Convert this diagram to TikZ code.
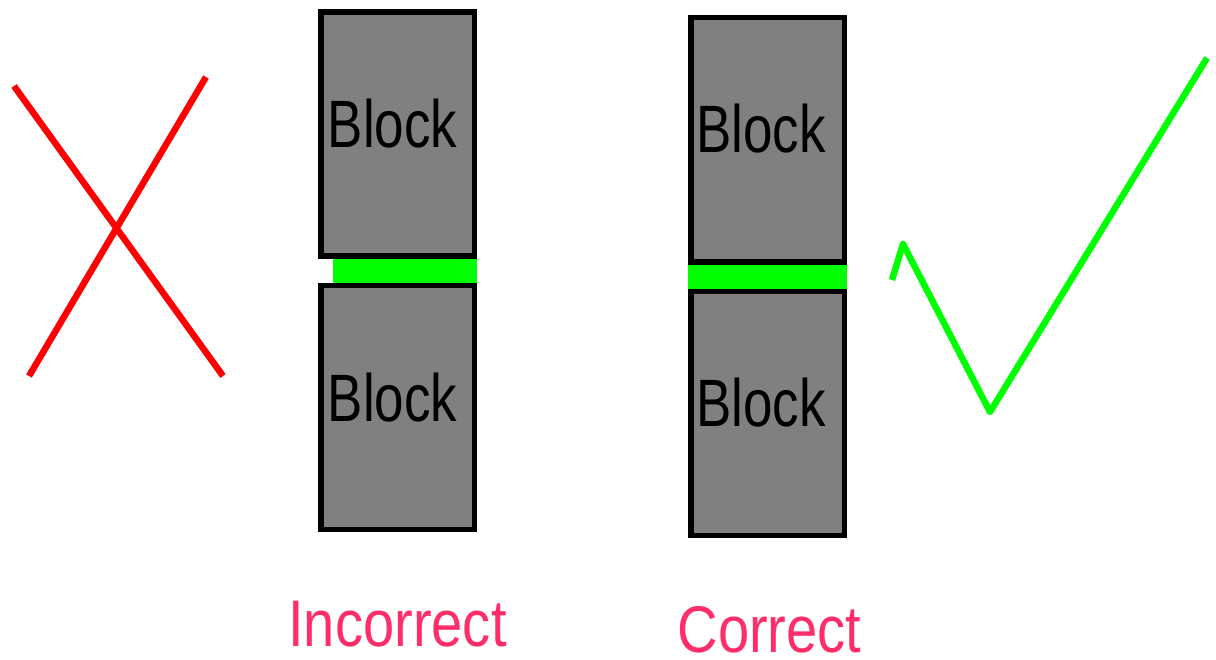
\documentclass[tikz,border=0pt]{standalone}
\usepackage{fontspec}
\setmainfont{Liberation Sans}
\definecolor{blockgray}{RGB}{128,128,128}
\definecolor{brightgreen}{RGB}{0,255,0}
\definecolor{brightred}{RGB}{255,0,0}
\definecolor{labelpink}{RGB}{255,45,105}
\tikzset{
  blockbox/.style={draw=black, fill=blockgray, line width=5.5pt, inner sep=0pt,
    minimum width=153.5pt, minimum height=244pt},
  gluebar/.style={fill=brightgreen, draw=none, inner sep=0pt, minimum height=24pt},
  blocktext/.style={inner sep=0pt, text=black, font=\fontsize{67}{70}\selectfont},
  labeltext/.style={inner sep=0pt, text=labelpink, font=\fontsize{66}{70}\selectfont},
  markline/.style={line width=6.5pt, line cap=butt, line join=miter}
}
\begin{document}
\begin{tikzpicture}[x=1pt,y=-1pt]
\useasboundingbox (0,0) rectangle (1216,660);
% incorrect stack
\node[blockbox] (lt) at (397.5,134) {};
\node[blockbox, minimum height=243.5pt] (lb) at (397.5,407.5) {};
\node[gluebar, minimum width=144pt] (lg) at (405,271) {};
\node[blocktext] (ltt) at (392.5,124) {\scalebox{0.79}[1]{Block}};
\node[blocktext] (lbt) at (392.5,397.5) {\scalebox{0.79}[1]{Block}};
% correct stack
\node[blockbox, minimum height=244.5pt] (rt) at (767.5,140) {};
\node[blockbox, minimum height=243.5pt] (rb) at (767.5,413.5) {};
\node[gluebar, minimum width=159pt] (rg) at (767.5,277) {};
\node[blocktext] (rtt) at (761,129) {\scalebox{0.79}[1]{Block}};
\node[blocktext] (rbt) at (761,402.5) {\scalebox{0.79}[1]{Block}};
% labels
\node[labeltext] (inc) at (397.5,624.5) {\scalebox{0.85}[1]{Incorrect}};
\node[labeltext] (cor) at (769.5,630) {\scalebox{0.85}[1]{Correct}};
% cross
\coordinate (x1a) at (14,86);
\coordinate (x1b) at (223,376);
\coordinate (x2a) at (206,77);
\coordinate (x2b) at (29,376);
\draw[markline, brightred] (x1a) -- (x1b);
\draw[markline, brightred] (x2a) -- (x2b);
% tick
\coordinate (t0) at (892,280);
\coordinate (t1) at (903,244);
\coordinate (t2) at (990,412);
\coordinate (t3) at (1207,58);
\draw[markline, brightgreen, line join=round] (t0) -- (t1) -- (t2) -- (t3);
\end{tikzpicture}
\end{document}
